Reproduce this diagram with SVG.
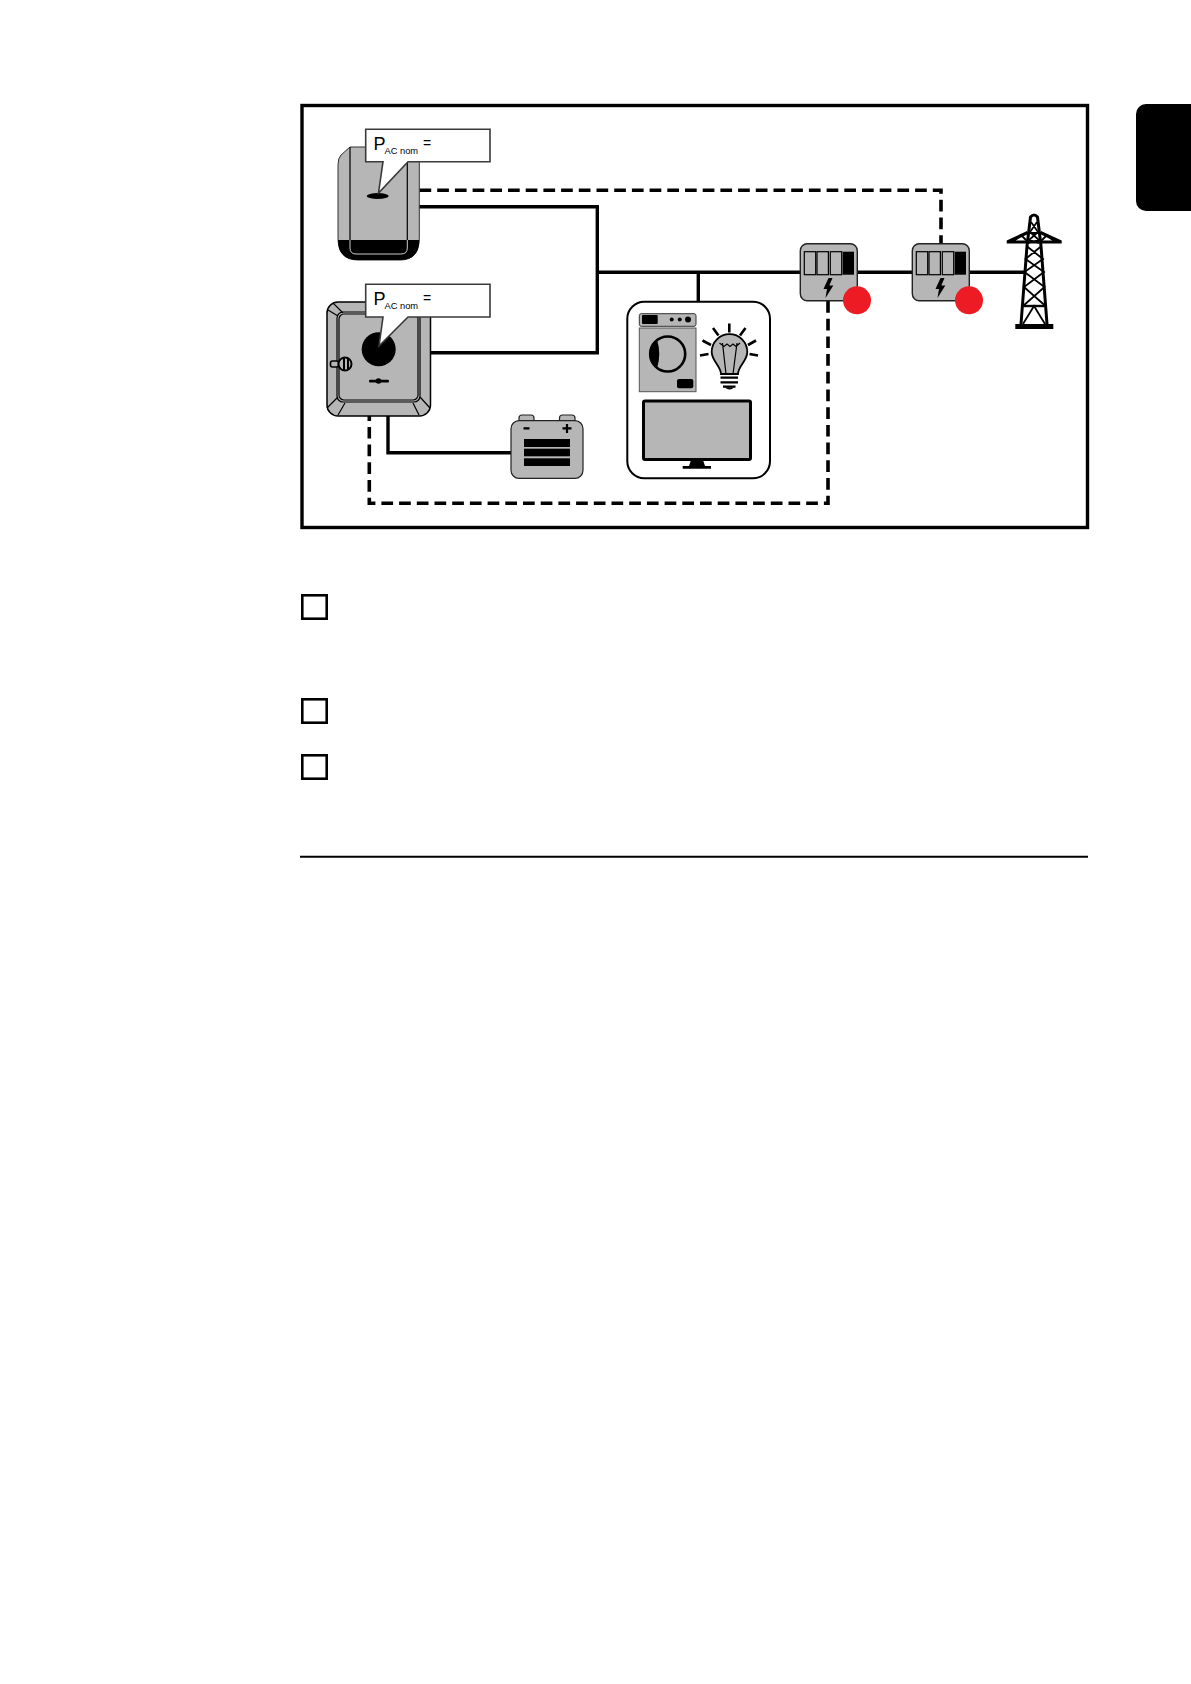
<svg xmlns="http://www.w3.org/2000/svg" width="1191" height="1684" viewBox="0 0 1191 1684">
<style>
.g{fill:#b5b6b5}
.k{fill:#000}
.o{stroke:#000;stroke-width:1.5}
.o2{fill:none;stroke:#000;stroke-width:1.2}
.w{fill:none;stroke:#000;stroke-width:3.4}
.d{fill:none;stroke:#000;stroke-width:3.6;stroke-dasharray:11.7 6}
.call{fill:#fff;stroke:#3a3a3a;stroke-width:1.6}
.cb{fill:#fff;stroke:#000;stroke-width:2.6}
.red{fill:#ed1c24}
text{font-family:"Liberation Sans",Arial,sans-serif;fill:#000}
.p{font-size:18px}.s{font-size:9.3px}.e{font-size:14px}
</style>
<rect width="1191" height="1684" fill="#fff"/>
<rect id="frame" x="302" y="105.5" width="785.5" height="422" fill="none" stroke="#000" stroke-width="3.4"/>
<rect id="tab" x="1136" y="104" width="70" height="107" rx="10" fill="#000"/>

<g id="connectors">
<path class="w" d="M419 206.7H597.3V352.7H430"/>
<path class="w" d="M597.3 272.3H1025"/>
<path class="w" d="M698.3 272.3V302"/>
<path class="w" d="M388 416V452.7H511"/>
<path class="d" d="M419.5 190.3H941V244"/>
<path class="d" d="M828 301V503.3H369.3V416"/>
</g>

<g id="inverter-1">
<path class="g" d="M338 165Q338 158 341 155L350 147H419.3V238Q419.3 260 400 260H358Q338 260 338 238Z" stroke="#333" stroke-width="1"/>
<path class="k" d="M338 240H419.3Q419.3 260 400 260H358Q338 260 338 240Z"/>
<path class="o2" d="M350 147V240M407.3 147V240"/>
<path fill="none" stroke="#ccc" stroke-width="1" d="M350 240V248Q350 254 356 254H401Q407.3 254 407.3 248V240"/>
<ellipse class="k" cx="377.7" cy="196" rx="11" ry="3"/>
<path class="call" d="M365.7 129.3H490V161.7H408L378.5 193L383 161.7H365.7Z"/>
<text class="p" x="373.5" y="149.6">P</text>
<text class="s" x="384.5" y="154">AC nom</text>
<text class="e" x="423" y="148">=</text>
</g>

<g id="inverter-2">
<rect class="g o" x="327" y="302" width="103.5" height="114" rx="11"/>
<rect class="o2" x="337" y="312" width="83" height="90" rx="6"/>
<rect class="o2" x="339" y="314" width="79" height="86" rx="5" stroke="#333"/>
<path class="o2" stroke-width="1" d="M328 310L338 316M333 303L343 313M416 313L426 303M420 316L430 310M327 408L338 397M338 415L345 403M413 403L419 415M420 397L430 408"/>
<circle class="k" cx="378.7" cy="349.3" r="17"/>
<rect class="k" x="369" y="379.7" width="20" height="2.8" rx="1"/>
<circle class="k" cx="378.5" cy="381" r="2.8"/>
<rect x="330.5" y="361" width="8" height="6" rx="2" fill="#b5b6b5" stroke="#000" stroke-width="1.6"/>
<circle cx="345" cy="364" r="6.5" fill="#b5b6b5" stroke="#000" stroke-width="2"/>
<path stroke="#000" stroke-width="2" d="M344 358V370M348 358.5V369.5"/>
<path class="call" d="M365.7 284.3H490V317H408L379 346L383 317H365.7Z"/>
<text class="p" x="373.5" y="304.6">P</text>
<text class="s" x="384.5" y="309">AC nom</text>
<text class="e" x="423" y="303">=</text>
</g>

<g id="battery">
<path class="g" stroke="#222" stroke-width="1.2" d="M519 421V418Q519 415 522 415H531Q534 415 534 418V421ZM559.5 421V418Q559.5 415 562.5 415H572Q575 415 575 418V421Z"/>
<rect class="g" stroke="#222" stroke-width="1.2" x="511" y="420.7" width="72" height="57.6" rx="8"/>
<rect class="k" x="524" y="439" width="46" height="8"/>
<rect class="k" x="524" y="448.7" width="46" height="7.6"/>
<rect class="k" x="524" y="458.3" width="46" height="7.7"/>
<path stroke="#000" stroke-width="2.2" d="M523.5 428.3H529.5M562.5 428.3H571.5M567 424V433"/>
</g>

<g id="loads">
<rect x="627.3" y="301.7" width="142.7" height="176.6" rx="17" fill="#fff" stroke="#000" stroke-width="2"/>
<rect class="g" x="639.3" y="313.7" width="56.7" height="12.6" rx="2" stroke="#333" stroke-width="1"/>
<rect class="k" x="642" y="315" width="15.7" height="9" rx="1"/>
<circle class="k" cx="671.7" cy="319.5" r="2"/>
<circle class="k" cx="679.7" cy="319.5" r="2"/>
<circle class="k" cx="688" cy="319.5" r="3"/>
<rect class="g" x="639.3" y="328" width="56.7" height="63.7" stroke="#555" stroke-width="1"/>
<circle cx="667.7" cy="354" r="17.5" fill="none" stroke="#000" stroke-width="2.6"/>
<path class="k" d="M657 339.5A17.5 17.5 0 0 0 657 368.5Q661.5 354 657 339.5Z"/>
<rect class="k" x="677" y="379" width="16.3" height="9.3" rx="2"/>
<path class="g" stroke="#000" stroke-width="1.8" d="M721 374C721 366 711.7 361 711.7 352A17.8 17.8 0 0 1 747.3 352C747.3 361 738 366 738 374Z"/>
<path class="o2" d="M719.5 343L724 346.5L727 344L730 346.5L733 344L736 346.5L740 343M722.5 343L726 374M737 343L733 374"/>
<path fill="none" stroke="#000" stroke-width="2.2" d="M720.5 377.7H738M720.5 382.3H738M723 386.7H735.5"/>
<path class="k" d="M725 387.5H734Q732 389.5 729.5 389.5Q727 389.5 725 387.5Z"/>
<path fill="none" stroke="#000" stroke-width="2.6" d="M729.3 323.5V332.5M713 328L718.5 335.5M745.5 328L740 335.5M702.5 340.5L711 345M756 340.5L748 345M700 355.5L708.5 354M758 355.5L749.5 354"/>
<rect class="g" x="643.5" y="401" width="107" height="58.5" rx="1.5" stroke="#000" stroke-width="3"/>
<path class="k" d="M691 460H703L705 466H711V468.7H682.7V466H689Z"/>
</g>

<g id="meter-1">
<rect class="g" x="800.3" y="243.7" width="57" height="57" rx="7" stroke="#222" stroke-width="1.4"/>
<g class="o2"><rect x="804.3" y="251.7" width="11.4" height="23"/><rect x="817" y="251.7" width="11.4" height="23"/><rect x="830.3" y="251.7" width="11.4" height="23"/></g>
<rect class="k" x="842.7" y="251.7" width="11.3" height="23"/>
<path class="k" d="M828.5 278L823.5 289H827L825.5 298L833.3 285.5H829.3L832.5 278Z"/>
<circle class="red" cx="857" cy="300.3" r="14"/>
</g>

<g id="meter-2">
<rect class="g" x="912.3" y="243.7" width="57" height="57" rx="7" stroke="#222" stroke-width="1.4"/>
<g class="o2"><rect x="916.3" y="251.7" width="11.4" height="23"/><rect x="929" y="251.7" width="11.4" height="23"/><rect x="942.3" y="251.7" width="11.4" height="23"/></g>
<rect class="k" x="954.7" y="251.7" width="11.3" height="23"/>
<path class="k" d="M940.5 278L935.5 289H939L937.5 298L945.3 285.5H941.3L944.5 278Z"/>
<circle class="red" cx="969" cy="300.3" r="14"/>
</g>

<g id="tower">
<rect class="k" x="1015.3" y="324" width="38" height="5"/>
<path fill="none" stroke="#000" stroke-width="3" stroke-linejoin="round" d="M1021 324L1027 246L1030.5 217Q1034 213 1037.5 217L1041 246L1047 324"/>
<path class="k" d="M1006.7 240.5L1027 231V234.5L1015 240.5H1053L1041 234.5V231L1061.7 240.5V243.5H1006.7Z"/>
<path fill="none" stroke="#000" stroke-width="1.8" d="M1031 222L1038 232L1029 240L1039 243M1037 222L1030 232L1039 240L1028 243M1014 241L1021 235L1027 241M1054 241L1047 235L1041 241M1027 233H1041"/>
<path fill="none" stroke="#000" stroke-width="1.8" d="M1026.5 246L1043 259L1024.5 272L1044.5 287L1023 306M1041.5 246L1025.5 259L1044 272L1024 287L1045.5 306M1023 324L1034 306L1045 324"/>
<path stroke="#000" stroke-width="2.4" d="M1022.5 306H1045.5"/>
</g>

<g id="checkboxes">
<rect class="cb" x="302.3" y="595.3" width="24.4" height="23.4"/>
<rect class="cb" x="302.3" y="699.3" width="24.4" height="23.4"/>
<rect class="cb" x="302.3" y="755.3" width="24.4" height="23.4"/>
</g>
<path id="rule" stroke="#000" stroke-width="2" d="M300 856.7H1088"/>
</svg>
